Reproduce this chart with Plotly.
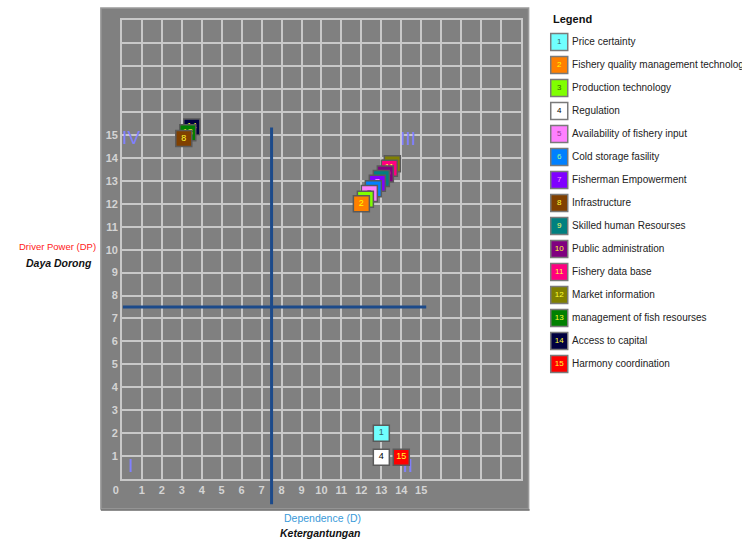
import plotly.graph_objects as go

# ---------------- data ----------------
item_ids = [1, 2, 3, 4, 5, 6, 7, 8, 9, 10, 11, 12, 13, 14, 15]
item_names = [
    "Price certainty",
    "Fishery quality management technology",
    "Production technology",
    "Regulation",
    "Availability of fishery input",
    "Cold storage fasility",
    "Fisherman Empowerment",
    "Infrastructure",
    "Skilled human Resourses",
    "Public administration",
    "Fishery data base",
    "Market information",
    "management of fish resourses",
    "Access to capital",
    "Harmony coordination",
]
dependence = [13.0, 12.0, 12.2, 13.0, 12.4, 12.6, 12.8, 3.1, 13.0, 13.2, 13.4, 13.55, 3.3, 3.5, 14.0]
driver_power = [2.0, 12.0, 12.2, 0.95, 12.45, 12.65, 12.9, 14.85, 13.1, 13.3, 13.55, 13.75, 15.1, 15.35, 0.95]
fill_colors = ["#70FFFF", "#FF8000", "#80FF00", "#FFFFFF", "#FF80FF", "#0080FF", "#8000FF",
               "#804000", "#008080", "#800080", "#FF0080", "#808000", "#008000", "#000040", "#FF0000"]
num_colors = ["#336666", "#FFFF00", "#336600", "#000000", "#993399", "#99FF99", "#FF99FF",
              "#FFFF33", "#FFFF66", "#FFFF33", "#FFFF33", "#FFFF33", "#FFFF33", "#FFFF33", "#FFFF33"]

x_tick_vals = list(range(0, 21))
x_tick_text = ["0\u00a0\u00a0\u00a0\u00a0"] + [str(v) if v <= 15 else "" for v in x_tick_vals[1:]]
y_tick_vals = list(range(1, 21))
y_tick_text = [str(v) if v <= 15 else "" for v in y_tick_vals]

quadrant_labels = ["IV", "III", "I", "II"]
quadrant_x = [0.46, 14.34, 0.45, 14.34]
quadrant_y = [14.8, 14.78, 0.52, 0.52]

threshold = 7.5
v_line_y = [-1.1, 15.33]
h_line_x = [0.05, 15.25]

# ---------------- layout helpers ----------------
W, H = 742, 542
FONT = "Liberation Sans, Arial, sans-serif"


def px_x(p):
    return p / W


def px_y(p):
    return 1 - p / H


fig = go.Figure()

# quadrant labels (under markers)
fig.add_trace(go.Scatter(
    x=quadrant_x, y=quadrant_y, mode="text", text=quadrant_labels,
    textfont=dict(family=FONT, size=19, color="#8080FF"),
    hoverinfo="skip", showlegend=False, cliponaxis=False,
))

# main markers, drawn in reverse so that lower numbers sit on top
for i in reversed(range(len(item_ids))):
    fig.add_trace(go.Scatter(
        x=[dependence[i]], y=[driver_power[i]], mode="markers+text",
        text=[str(item_ids[i])], textposition="middle center",
        textfont=dict(family=FONT, size=9, color=num_colors[i]),
        marker=dict(symbol="square", size=16, color=fill_colors[i],
                    line=dict(color="#5A5A5A", width=1.5)),
        name=item_names[i], showlegend=False, cliponaxis=False,
    ))

# legend built as a second subplot (axis units = pixels)
legend_rows = [42 + 23 * k for k in range(len(item_ids))]
fig.add_trace(go.Scatter(
    x=[557] * len(item_ids), y=legend_rows, mode="markers+text",
    text=[str(v) for v in item_ids], textposition="middle center",
    textfont=dict(family=FONT, size=8, color=num_colors),
    marker=dict(symbol="square", size=17, color=fill_colors,
                line=dict(color="#7A7A7A", width=1.5)),
    xaxis="x2", yaxis="y2", showlegend=False, hoverinfo="skip", cliponaxis=False,
))
fig.add_trace(go.Scatter(
    x=[570] * len(item_ids), y=legend_rows, mode="text",
    text=item_names, textposition="middle right",
    textfont=dict(family=FONT, size=10, color="#222222"),
    xaxis="x2", yaxis="y2", showlegend=False, hoverinfo="skip", cliponaxis=False,
))

axis_common = dict(
    showgrid=True, gridcolor="#C8C8C8", gridwidth=1.5,
    zeroline=False, showline=True, mirror=True, linecolor="#C8C8C8", linewidth=1.5,
    ticks="", tickfont=dict(family=FONT, size=11, color="#D4D4D4", weight="bold"),
    range=[0, 20], fixedrange=True,
)

fig.update_layout(
    width=W, height=H,
    margin=dict(l=0, r=0, t=0, b=0),
    paper_bgcolor="white",
    plot_bgcolor="white",
    xaxis=dict(domain=[px_x(114.3), px_x(518.3)], tickvals=x_tick_vals, ticktext=x_tick_text,
               anchor="y", **axis_common),
    yaxis=dict(domain=[px_y(479), px_y(20.3)], tickvals=y_tick_vals, ticktext=y_tick_text,
               anchor="x", **axis_common),
    xaxis2=dict(domain=[px_x(540), 1.0], range=[540, 742], visible=False, anchor="y2"),
    yaxis2=dict(domain=[0, 1], range=[542, 0], visible=False, anchor="x2"),
    showlegend=False,
    shapes=[
        # gray panel
        dict(type="rect", xref="paper", yref="paper", x0=px_x(93), x1=px_x(526),
             y0=px_y(509), y1=px_y(8), fillcolor="#808080",
             line=dict(color="#9A9A9A", width=1.5), layer="below"),
        dict(type="line", xref="paper", yref="paper", x0=px_x(93), x1=px_x(527),
             y0=px_y(510), y1=px_y(510), line=dict(color="#6A6A6A", width=1.5), layer="below"),
        # threshold lines
        dict(type="line", xref="x", yref="y domain", x0=threshold, x1=threshold,
             y0=v_line_y[0] / 20, y1=v_line_y[1] / 20,
             line=dict(color="#1C4A8A", width=3), layer="above"),
        dict(type="line", xref="x", yref="y", x0=h_line_x[0], x1=h_line_x[1],
             y0=threshold, y1=threshold,
             line=dict(color="#1C4A8A", width=3), layer="above"),
    ],
    annotations=[
        dict(text="Legend", xref="paper", yref="paper", x=px_x(549), y=px_y(19),
             xanchor="left", yanchor="middle", showarrow=False,
             font=dict(family=FONT, size=11, color="#111111", weight="bold")),
        dict(text="Driver Power (DP)", xref="paper", yref="paper", x=px_x(90), y=px_y(247),
             xanchor="right", yanchor="middle", showarrow=False,
             font=dict(family=FONT, size=9.5, color="#FF2020")),
        dict(text="<i>Daya Dorong</i>", xref="paper", yref="paper", x=px_x(51), y=px_y(262.5),
             xanchor="center", yanchor="middle", showarrow=False,
             font=dict(family=FONT, size=10.5, color="#111111", weight="bold")),
        dict(text="Dependence (D)", xref="paper", yref="paper", x=px_x(317), y=px_y(518),
             xanchor="center", yanchor="middle", showarrow=False,
             font=dict(family=FONT, size=10.5, color="#3A9AD9")),
        dict(text="<i>Ketergantungan</i>", xref="paper", yref="paper", x=px_x(315.5), y=px_y(533),
             xanchor="center", yanchor="middle", showarrow=False,
             font=dict(family=FONT, size=10.5, color="#111111", weight="bold")),
    ],
)

fig.write_html("out.html", config={"displayModeBar": False},
               post_script="document.body.style.margin='0px';document.body.style.overflow='hidden';")
